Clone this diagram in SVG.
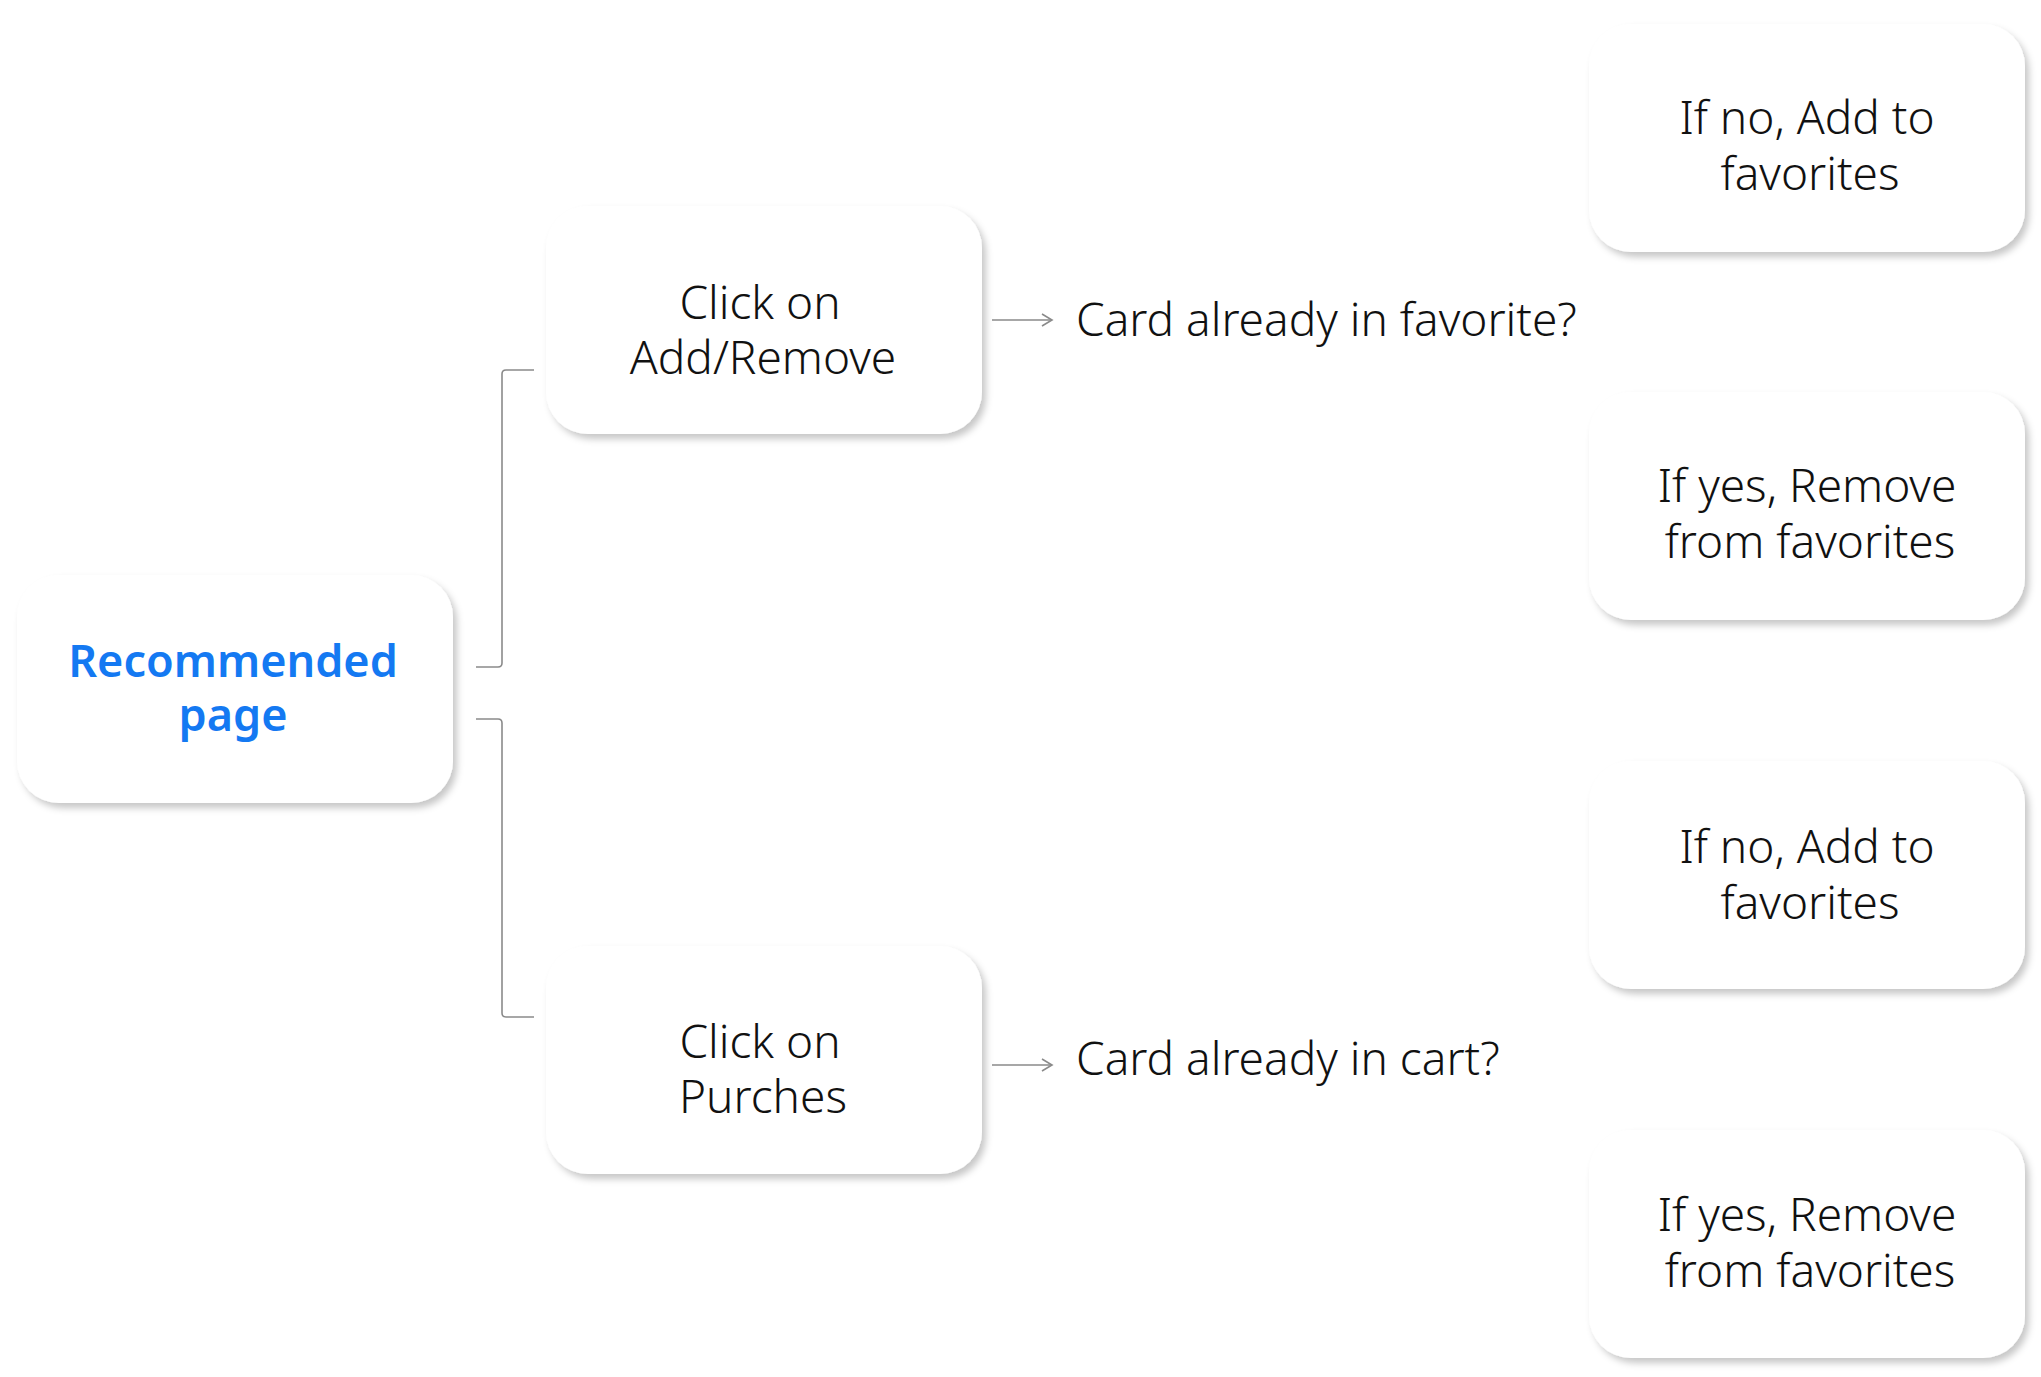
<svg xmlns="http://www.w3.org/2000/svg" width="2041" height="1377" viewBox="0 0 2041 1377">
<defs>
<filter id="sh" x="-10%" y="-10%" width="125%" height="130%">
<feDropShadow dx="4" dy="5" stdDeviation="3.5" flood-color="#000" flood-opacity="0.22"/>
</filter>
<marker id="arr" markerWidth="14" markerHeight="14" refX="11" refY="7" orient="auto" markerUnits="userSpaceOnUse">
<path d="M1,1 L11,7 L1,13" fill="none" stroke="#8a8a8a" stroke-width="1.6"/>
</marker>
</defs>
<style>
.box{fill:#fff;filter:url(#sh)}
.t{font-family:"Noto Sans","Open Sans","Liberation Sans",sans-serif;font-weight:300;font-size:46px;fill:#111;text-anchor:middle}
.lbl{font-family:"Noto Sans","Open Sans","Liberation Sans",sans-serif;font-weight:300;font-size:46px;fill:#111}
.root{font-family:"Noto Sans","Open Sans","Liberation Sans",sans-serif;font-weight:600;font-size:45px;fill:#1479f2;text-anchor:middle}
.c{fill:none;stroke:#8a8a8a;stroke-width:1.6}
</style>
<rect width="2041" height="1377" fill="#fff"/>
<g id="connectors">
<path class="c" d="M476,667 H498 Q502,667 502,663 V374 Q502,370 506,370 H534"/>
<path class="c" d="M476,719 H498 Q502,719 502,723 V1013 Q502,1017 506,1017 H534"/>
<line class="c" x1="992" y1="320" x2="1052" y2="320" marker-end="url(#arr)"/>
<line class="c" x1="992" y1="1065" x2="1052" y2="1065" marker-end="url(#arr)"/>
</g>
<g id="recommended">
<rect class="box" x="17" y="575" width="436" height="228" rx="42"/>
<text class="root" x="233" y="677">Recommended</text>
<text class="root" x="233" y="731">page</text>
</g>
<g id="click-add-remove">
<rect class="box" x="546" y="206" width="436" height="228" rx="42"/>
<text class="t" x="760" y="319">Click on</text>
<text class="t" x="763" y="374">Add/Remove</text>
</g>
<g id="click-purches">
<rect class="box" x="546" y="946" width="436" height="228" rx="42"/>
<text class="t" x="760" y="1058">Click on</text>
<text class="t" x="763" y="1113">Purches</text>
</g>
<g id="q-favorite">
<text class="lbl" x="1076" y="336">Card already in favorite?</text>
</g>
<g id="q-cart">
<text class="lbl" x="1076" y="1075">Card already in cart?</text>
</g>
<g id="fav-no">
<rect class="box" x="1589" y="24" width="436" height="228" rx="42"/>
<text class="t" x="1807" y="134">If no, Add to</text>
<text class="t" x="1810" y="190">favorites</text>
</g>
<g id="fav-yes">
<rect class="box" x="1589" y="392" width="436" height="228" rx="42"/>
<text class="t" x="1807" y="502">If yes, Remove</text>
<text class="t" x="1810" y="558">from favorites</text>
</g>
<g id="cart-no">
<rect class="box" x="1589" y="761" width="436" height="228" rx="42"/>
<text class="t" x="1807" y="863">If no, Add to</text>
<text class="t" x="1810" y="919">favorites</text>
</g>
<g id="cart-yes">
<rect class="box" x="1589" y="1130" width="436" height="228" rx="42"/>
<text class="t" x="1807" y="1231">If yes, Remove</text>
<text class="t" x="1810" y="1287">from favorites</text>
</g>
</svg>
